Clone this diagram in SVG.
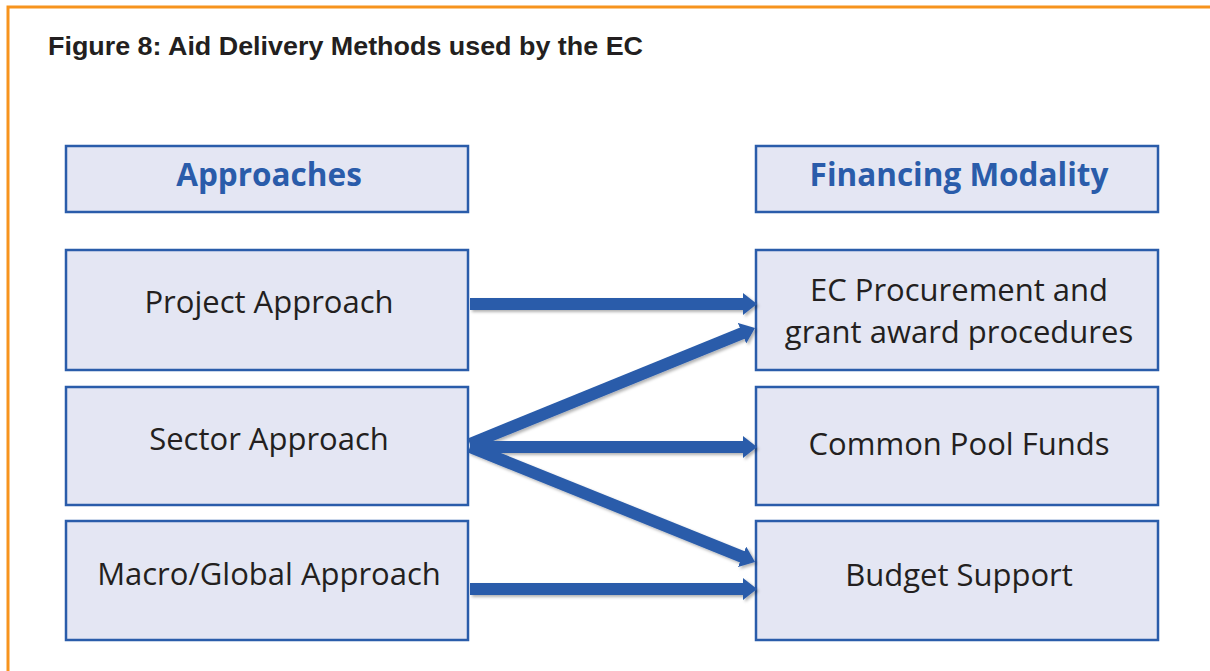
<svg xmlns="http://www.w3.org/2000/svg" width="1210" height="671" viewBox="0 0 1210 671">
<defs>
<style>
.box{fill:#e4e6f3;stroke:#2a5caa;stroke-width:2.5}
.hd{font-family:"Open Sans","Noto Sans",sans-serif;font-weight:bold;font-size:31.5px;fill:#2a5caa;text-anchor:middle}
.lb{font-family:"Open Sans","Noto Sans",sans-serif;font-size:31px;fill:#231f20;text-anchor:middle}
.ttl{font-family:"Liberation Sans",Arial,sans-serif;font-weight:bold;font-size:25px;fill:#231f20}
.cn{stroke:#2a5caa;stroke-width:12;fill:none;marker-end:url(#ah)}
</style>
<marker id="ah" markerUnits="userSpaceOnUse" markerWidth="14" markerHeight="22" viewBox="0 0 14 22" refX="1" refY="11" orient="auto">
<path d="M0,0 L14,11 L0,22 z" fill="#2a5caa"/>
</marker>
<filter id="sh" x="-10%" y="-10%" width="120%" height="130%">
<feDropShadow dx="2" dy="2" stdDeviation="1.5" flood-color="#000" flood-opacity="0.3"/>
</filter>
</defs>
<rect x="8" y="7" width="1300" height="800" fill="none" stroke="#f7941d" stroke-width="3"/>
<text class="ttl" x="48" y="55" textLength="595" lengthAdjust="spacingAndGlyphs">Figure 8: Aid Delivery Methods used by the EC</text>
<g id="approaches"><rect class="box" x="66" y="146" width="402" height="66"/><text class="hd" x="269" y="186">Approaches</text></g>
<g id="financing"><rect class="box" x="756" y="146" width="402" height="66"/><text class="hd" x="959" y="186">Financing Modality</text></g>
<g id="project"><rect class="box" x="66" y="250" width="402" height="120"/><text class="lb" x="269" y="313">Project Approach</text></g>
<g id="sector"><rect class="box" x="66" y="387" width="402" height="118"/><text class="lb" x="269" y="450">Sector Approach</text></g>
<g id="macro"><rect class="box" x="66" y="521" width="402" height="119"/><text class="lb" x="269" y="585">Macro/Global Approach</text></g>
<g id="ecproc"><rect class="box" x="756" y="250" width="402" height="120"/><text class="lb" x="959" y="301">EC Procurement and</text><text class="lb" x="959" y="343">grant award procedures</text></g>
<g id="pool"><rect class="box" x="756" y="387" width="402" height="118"/><text class="lb" x="959" y="455">Common Pool Funds</text></g>
<g id="budget"><rect class="box" x="756" y="521" width="402" height="119"/><text class="lb" x="959" y="586">Budget Support</text></g>
<g id="connectors" filter="url(#sh)">
<line class="cn" x1="470" y1="304" x2="744" y2="304"/>
<line class="cn" x1="470" y1="444" x2="743" y2="332.9"/>
<line class="cn" x1="470" y1="447" x2="744" y2="447"/>
<line class="cn" x1="470" y1="447" x2="743" y2="557.1"/>
<line class="cn" x1="470" y1="589" x2="744" y2="589"/>
</g>
</svg>
